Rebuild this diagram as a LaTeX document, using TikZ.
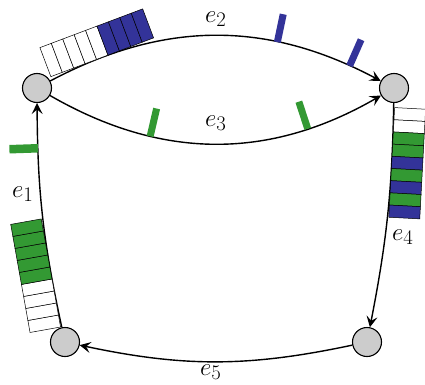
\documentclass[tikz,border=0pt]{standalone}
\usetikzlibrary{arrows.meta,decorations.markings}
\definecolor{qblue}{RGB}{51,51,153}
\definecolor{qgreen}{RGB}{51,153,51}
\definecolor{nodegray}{RGB}{204,204,204}
\begin{document}
\begin{tikzpicture}[x=1pt,y=1pt,
  vertex/.style={circle,draw,line width=1.1pt,fill=nodegray,minimum size=29pt,inner sep=0pt},
  link/.style={line width=1.4pt,-{Stealth[length=11pt,width=11pt,inset=4.5pt]}},
  lbl/.style={inner sep=0pt,anchor=base west,font=\fontsize{28}{30}\selectfont},
  queueat/.style 2 args={postaction={decorate,decoration={markings,
      mark=at position #1 with {\foreach \c [count=\i from 0] in {#2}
        {\filldraw[arrows=-,fill=\c,draw=black,line width=0.5pt]
          ({-54.9+\i*12.2},0) rectangle ++(12.2,31);}}}}},
  packet/.style n args={3}{postaction={decorate,decoration={markings,
      mark=at position #1 with {\fill[arrows=-,#2] ({-#3/2},0) rectangle ({#3/2},28.5);}}}},
]
\useasboundingbox (0,0) rectangle (425,384);

\node[vertex] (A) at (37,296) {};
\node[vertex] (B) at (394,296) {};
\node[vertex] (C) at (367,42) {};
\node[vertex] (D) at (65,42) {};

\draw[link,
  queueat={0.165}{white,white,white,white,white,qblue,qblue,qblue,qblue},
  packet={0.68}{qblue}{7},
  packet={0.90}{qblue}{7}] (A) to[bend left=28] (B);
\draw[link,
  packet={0.311}{qgreen}{7},
  packet={0.769}{qgreen}{7}] (A) to[bend right=30] (B);
\draw[link,
  queueat={0.263}{white,white,qgreen,qgreen,qblue,qgreen,qblue,qgreen,qblue}] (B) to[bend left=5] (C);
\draw[link] (C) to[bend left=12] (D);
\draw[link,
  queueat={0.245}{white,white,white,white,qgreen,qgreen,qgreen,qgreen,qgreen},
  packet={0.80}{qgreen}{8.5}] (D) to[bend left=6] (A);

\node[lbl] (l1) at (12,187) {$e_1$};
\node[lbl] (l2) at (205,362) {$e_2$};
\node[lbl] (l3) at (205,258) {$e_3$};
\node[lbl] (l4) at (392,144) {$e_4$};
\node[lbl] (l5) at (200,9) {$e_5$};
\end{tikzpicture}
\end{document}
